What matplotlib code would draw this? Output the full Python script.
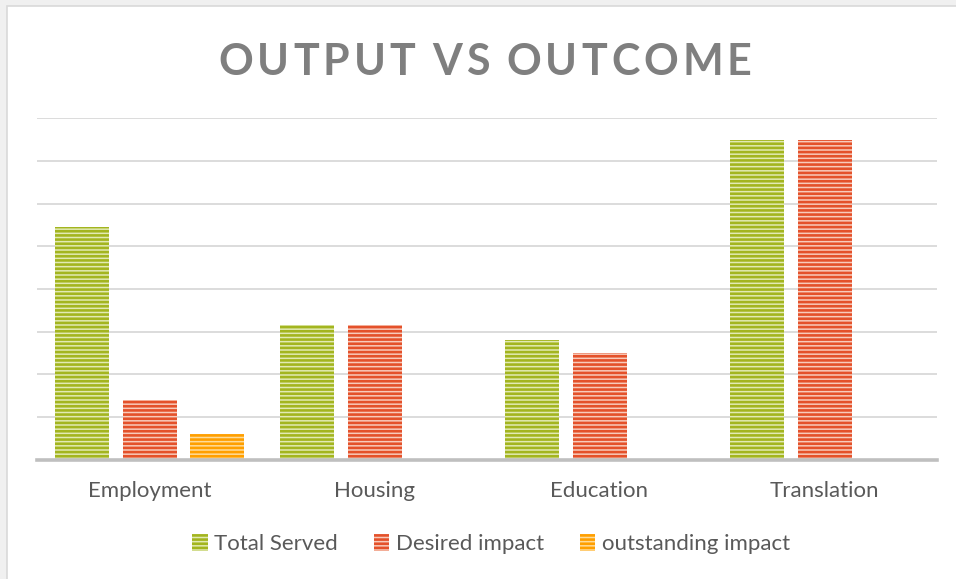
import numpy as np
import matplotlib.pyplot as plt
from matplotlib.patches import Rectangle, Patch

# data (one grid step = 20)
categories = ["Employment", "Housing", "Education", "Translation"]
total_served = [109, 63, 56, 150]
desired_impact = [28, 63, 50, 150]
outstanding_impact = [12, 0, 0, 0]
series_names = ["Total Served", "Desired impact", "outstanding impact"]

stripe_colors = ["#a3b51f", "#e4512a", "#ff9f00"]
face_colors = ["#e2eab4", "#f8cbbb", "#ffdc9a"]

plt.rcParams['hatch.linewidth'] = 1.9
plt.rcParams['font.family'] = ['Lato', 'DejaVu Sans']

fig = plt.figure(figsize=(9.56, 5.79), dpi=100)
fig.patch.set_facecolor("#f0f0f0")
# white chart box with thin border, behind the axes
fig.patches.append(Rectangle((6.5 / 956, -0.1), 1.2, 1 - 6.5 / 579 + 0.1,
                             transform=fig.transFigure, facecolor="white",
                             edgecolor="#d9d9d9", linewidth=1.2, zorder=-5))

ax = fig.add_axes([37 / 956, 1 - 459.5 / 579, 900 / 956, (459.5 - 118.3) / 579])
ax.set_facecolor("none")
ax.set_zorder(2)

x = np.arange(len(categories))
width = 0.24
step = 0.298
all_series = [total_served, desired_impact, outstanding_impact]
for i, vals in enumerate(all_series):
    ax.bar(x + (i - 1) * step, vals, width, color=face_colors[i],
           edgecolor=stripe_colors[i], linewidth=0, hatch="----", zorder=3)

ax.set_xlim(-0.5, 3.5)
ax.set_ylim(0, 160)
ax.set_yticks(np.arange(0, 161, 20))
ax.yaxis.grid(True, color="#d9d9d9", linewidth=1.3)
ax.set_axisbelow(True)
ax.tick_params(axis="y", left=False, labelleft=False)
ax.tick_params(axis="x", bottom=False, pad=12, labelsize=16, labelcolor="#595959")
ax.set_xticks(x)
ax.set_xticklabels(categories)
for s in ["top", "left", "right"]:
    ax.spines[s].set_visible(False)
ax.spines["bottom"].set_color("#bfbfbf")
ax.spines["bottom"].set_linewidth(2.6)
ax.spines["bottom"].set_zorder(4)

# title with letter spacing, placed char by char
title = "OUTPUT VS OUTCOME"
spacing = 4.0
renderer = fig.canvas.get_renderer()
widths = []
for ch in title:
    t = fig.text(0, 0, ch if ch != " " else "I", fontsize=31, fontweight="bold")
    w = t.get_window_extent(renderer).width
    if ch == " ":
        w = w * 0.7
    widths.append(w)
    t.remove()
total = sum(widths) + spacing * (len(title) - 1)
xpos = 485 - total / 2
for ch, w in zip(title, widths):
    if ch != " ":
        fig.text(xpos / 956, 1 - 75 / 579, ch, fontsize=31, fontweight="bold",
                 color="#7f7f7f", ha="left", va="baseline")
    xpos += w + spacing

handles = [Patch(facecolor=face_colors[i], edgecolor=stripe_colors[i],
                 linewidth=0, hatch="----") for i in range(3)]
fig.legend(handles, series_names, loc="center", bbox_to_anchor=(491 / 956, 1 - 544 / 579),
           ncol=3, frameon=False, fontsize=16, labelcolor="#595959",
           handlelength=0.7, handleheight=0.8, handletextpad=0.3, columnspacing=1.6)

fig.savefig("out.png", dpi=100, facecolor=fig.get_facecolor())
